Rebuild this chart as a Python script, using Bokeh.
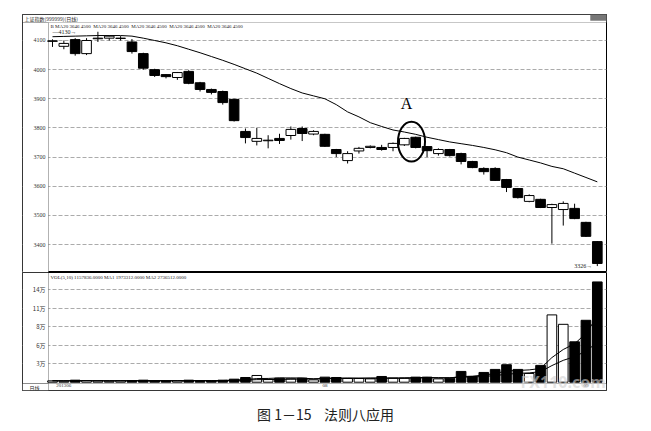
from bokeh.plotting import figure
from bokeh.layouts import column
from bokeh.models import ColumnDataSource, FixedTicker, Label, BoxAnnotation, Range1d
from bokeh.embed import file_html
from bokeh.resources import INLINE

# ---------------- data ----------------
idx = list(range(49))
opens = [4097, 4080, 4103, 4055, 4106, 4108, 4107, 4095, 4055, 4000,
         3983, 3973, 3994, 3955, 3932, 3925, 3898, 3788, 3754, 3756,
         3764, 3774, 3798, 3779, 3778, 3726, 3688, 3721, 3733, 3733,
         3733, 3742, 3768, 3736, 3712, 3726, 3712, 3685, 3661, 3661,
         3623, 3592, 3548, 3555, 3527, 3520, 3524, 3476, 3410]
closes = [4099, 4090, 4055, 4100, 4108, 4115, 4108, 4062, 4005, 3980,
          3976, 3990, 3953, 3932, 3922, 3887, 3825, 3767, 3764, 3758,
          3757, 3795, 3781, 3788, 3737, 3712, 3712, 3730, 3737, 3726,
          3747, 3764, 3733, 3722, 3726, 3705, 3685, 3664, 3650, 3620,
          3596, 3561, 3568, 3527, 3537, 3541, 3489, 3428, 3335]
highs = [4104, 4100, 4108, 4108, 4130, 4118, 4115, 4105, 4058, 4003,
         3985, 3992, 3998, 3958, 3935, 3928, 3900, 3798, 3800, 3775,
         3780, 3805, 3805, 3792, 3780, 3728, 3720, 3735, 3740, 3742,
         3750, 3766, 3770, 3738, 3730, 3728, 3715, 3687, 3665, 3665,
         3625, 3594, 3572, 3557, 3540, 3548, 3540, 3478, 3412]
lows = [4078, 4070, 4048, 4050, 4095, 4100, 4100, 4055, 4000, 3975,
        3970, 3965, 3950, 3925, 3915, 3880, 3822, 3747, 3740, 3730,
        3745, 3760, 3755, 3775, 3735, 3700, 3678, 3712, 3730, 3722,
        3720, 3738, 3730, 3700, 3705, 3702, 3675, 3662, 3640, 3618,
        3580, 3558, 3545, 3525, 3403, 3465, 3487, 3426, 3326]
ma_price = [4113, 4114, 4115, 4116, 4117, 4117, 4117, 4115, 4108, 4100,
            4092, 4082, 4070, 4058, 4045, 4032, 4018, 4003, 3988, 3970,
            3952, 3935, 3920, 3910, 3900, 3880, 3855, 3838, 3818, 3805,
            3793, 3786, 3778, 3768, 3760, 3752, 3746, 3740, 3733, 3725,
            3715, 3700, 3690, 3680, 3668, 3660, 3645, 3630, 3615]
# volume in 万
vol = [0.2, 0.15, 0.3, 0.25, 0.2, 0.15, 0.2, 0.25, 0.3, 0.25,
       0.2, 0.2, 0.3, 0.25, 0.2, 0.3, 0.45, 0.7, 1.0, 0.4,
       0.6, 0.5, 0.6, 0.35, 0.75, 0.7, 0.55, 0.55, 0.5, 0.85,
       0.6, 0.6, 0.75, 0.75, 0.5, 0.6, 1.6, 0.85, 1.45, 1.9,
       2.6, 1.9, 1.3, 2.5, 10.0, 8.6, 6.0, 9.2, 14.9]
vol_ma5 = [0.22, 0.21, 0.22, 0.23, 0.22, 0.22, 0.22, 0.23, 0.24, 0.23,
           0.22, 0.22, 0.23, 0.24, 0.23, 0.25, 0.3, 0.38, 0.54, 0.56,
           0.63, 0.64, 0.62, 0.49, 0.56, 0.59, 0.59, 0.58, 0.61, 0.63,
           0.61, 0.63, 0.67, 0.71, 0.64, 0.64, 0.84, 0.89, 1.07, 1.28,
           1.68, 1.74, 1.83, 2.04, 3.66, 4.86, 5.70, 7.26, 9.74]
vol_ma10 = [0.22, 0.22, 0.22, 0.22, 0.22, 0.22, 0.22, 0.22, 0.23, 0.23,
            0.23, 0.23, 0.23, 0.24, 0.24, 0.24, 0.26, 0.31, 0.38, 0.39,
            0.42, 0.45, 0.47, 0.49, 0.54, 0.58, 0.61, 0.6, 0.6, 0.59,
            0.6, 0.6, 0.62, 0.66, 0.67, 0.65, 0.75, 0.78, 0.85, 0.99,
            1.18, 1.31, 1.38, 1.57, 2.47, 3.25, 3.79, 4.63, 5.89]

price_ticks = [3400, 3500, 3600, 3700, 3800, 3900, 4000, 4100]
vol_ticks = [2.75, 5.5, 8.25, 11.0, 13.75]
vol_tick_labels = ["3万", "6万", "8万", "11万", "14万"]
date_ticks = [1, 24, 47]
date_labels = ["201306", "08", "09"]

NB = "\u00a0"
title_text = "上证指数(999999)(日线)"
price_header = NB.join(["B"] + ["MA20" + NB + "3646" + NB + "4500" + NB] * 5)
vol_header = "VOL(5,10) 1157836.0000  MA1 1973312.0000  MA2 2736512.0000"
caption = "图" + NB + "1－15" + NB * 4 + "法则八应用"
high_mark, low_mark = "4130", "3326"
mark_a_idx, mark_a_price = 31.63, 3753

# ---------------- sources ----------------
body_fill = ["white" if c > o else "black" for o, c in zip(opens, closes)]
src = ColumnDataSource(dict(
    x=idx, o=opens, c=closes, h=highs, l=lows,
    top=[max(o, c) for o, c in zip(opens, closes)],
    bot=[min(o, c) for o, c in zip(opens, closes)],
    fill=body_fill, vol=vol, ma=ma_price, m5=vol_ma5, m10=vol_ma10,
))

GRID = "#ababab"
TICKF = "Liberation Serif"
W = 640


def box(fig, l, r, t, b, fill="white", line="black", level="underlay", lw=1):
    fig.add_layout(BoxAnnotation(left=l, right=r, top=t, bottom=b,
                                 left_units="canvas", right_units="canvas",
                                 top_units="canvas", bottom_units="canvas",
                                 fill_color=fill, fill_alpha=1.0,
                                 line_color=line, line_width=lw, level=level))


def style_y(ax, ticks, font):
    ax.ticker = FixedTicker(ticks=ticks)
    ax.axis_line_color = None
    ax.major_tick_line_color = None
    ax.minor_tick_line_color = None
    ax.major_tick_out = 0
    ax.major_tick_in = 0
    ax.major_label_standoff = -23
    ax.major_label_text_font_size = "6px"
    ax.major_label_text_font = font
    ax.major_label_text_color = "#333333"


# ---------------- price panel (frame = page x 22..606, y 14..272) ----------------
P = figure(width=W, height=272, x_range=Range1d(-2.643, 48.81),
           y_range=Range1d(3304, 4189.2), output_backend="svg",
           toolbar_location=None, x_axis_type=None, title=None,
           min_border_left=22, min_border_right=W - 606, min_border_top=14,
           min_border_bottom=0)
P.outline_line_color = "black"
P.outline_line_width = 1
style_y(P.yaxis[0], price_ticks, TICKF)
P.ygrid.ticker = FixedTicker(ticks=price_ticks)
P.ygrid.grid_line_color = GRID
P.ygrid.grid_line_dash = "4 2"

# left axis column and title bar
box(P, 22, 48, 22, 272)
box(P, 22, 606, 14, 22, line="#444444")
box(P, 590, 606, 14, 20, fill="#777777", line="#555555", level="annotation")

P.segment(x0="x", y0="l", x1="x", y1="h", source=src, line_color="black", line_width=1)
P.vbar(x="x", top="top", bottom="bot", width=0.85, source=src,
       fill_color="fill", line_color="black", line_width=1)
P.line(x="x", y="ma", source=src, line_color="black", line_width=1)
P.ellipse(x=[mark_a_idx], y=[mark_a_price], width=2.38, height=137,
          fill_color=None, line_color="black", line_width=2)
P.add_layout(Label(x=31.2, y=3884, text="A", text_font="Liberation Serif",
                   text_font_size="16px", text_align="center",
                   text_baseline="middle", text_color="black"))
P.add_layout(Label(x=0.0, y=4129, text="—" + high_mark + "→", text_font=TICKF,
                   text_font_size="6px", text_baseline="middle", text_color="#222"))
P.add_layout(Label(x=47.55, y=3326, text=low_mark + "→", text_font=TICKF,
                   text_font_size="6px", text_align="right",
                   text_baseline="middle", text_color="#222"))
P.add_layout(Label(x=24, y=18, x_units="canvas", y_units="canvas", text=title_text,
                   text_font="Noto Sans CJK SC", text_font_size="5px",
                   text_baseline="middle", text_color="#222"))
P.add_layout(Label(x=50, y=25.5, x_units="canvas", y_units="canvas", text=price_header,
                   text_font=TICKF, text_font_size="5px",
                   text_baseline="middle", text_color="#222"))

# ---------------- volume panel (frame = page x 22..606, y 272..390) ----------------
V = figure(width=W, height=128, x_range=P.x_range,
           y_range=Range1d(-1.233, 16.3), output_backend="svg",
           toolbar_location=None, title=None,
           min_border_left=22, min_border_right=W - 606, min_border_top=0,
           min_border_bottom=10)
V.outline_line_color = "black"
V.outline_line_width = 1
style_y(V.yaxis[0], vol_ticks, "Noto Sans CJK SC")
V.yaxis.major_label_overrides = {t: s for t, s in zip(vol_ticks, vol_tick_labels)}
V.ygrid.ticker = FixedTicker(ticks=vol_ticks)
V.ygrid.grid_line_color = GRID
V.ygrid.grid_line_dash = "4 2"
V.xgrid.grid_line_color = None
V.xaxis.ticker = FixedTicker(ticks=date_ticks)
V.xaxis.major_label_overrides = {t: s for t, s in zip(date_ticks, date_labels)}
V.xaxis.axis_line_color = None
V.xaxis.major_tick_line_color = None
V.xaxis.minor_tick_line_color = None
V.xaxis.major_tick_out = 0
V.xaxis.major_tick_in = 0
V.xaxis.major_label_standoff = -7
V.xaxis.major_label_text_font_size = "5px"
V.xaxis.major_label_text_font = TICKF
V.xaxis.major_label_text_color = "#333"

box(V, 22, 48, 0, 111)
box(V, 22, 606, 111, 118)
box(V, 22, 48, 111, 118)

V.vbar(x="x", top="vol", bottom=0, width=0.85, source=src,
       fill_color="fill", line_color="black", line_width=1)
V.line(x="x", y="m5", source=src, line_color="black", line_width=1)
V.line(x="x", y="m10", source=src, line_color="black", line_width=1)

V.add_layout(Label(x=50, y=5, x_units="canvas", y_units="canvas", text=vol_header,
                   text_font=TICKF, text_font_size="5px",
                   text_baseline="middle", text_color="#222"))
V.add_layout(Label(x=34, y=114.5, x_units="canvas", y_units="canvas", text="日线",
                   text_font="Noto Sans CJK SC", text_font_size="5px",
                   text_baseline="middle", text_align="center", text_color="#222"))
V.add_layout(Label(x=520, y=109, x_units="canvas", y_units="canvas", text="FX110.com",
                   text_font="Noto Sans", text_font_size="16px", text_font_style="bold",
                   text_baseline="middle", text_color="#d0d0d0", text_alpha=0.6))

# ---------------- caption ----------------
C = figure(width=W, height=28, output_backend="svg", toolbar_location=None,
           title=None, x_axis_type=None, y_axis_type=None,
           min_border_left=0, min_border_right=0, min_border_top=0,
           min_border_bottom=0)
C.outline_line_color = None
C.grid.grid_line_color = None
C.add_layout(Label(x=325, y=13, x_units="canvas", y_units="canvas", text=caption,
                   text_font="Noto Sans CJK SC", text_font_size="14px",
                   text_baseline="middle", text_align="center", text_color="#222"))

layout = column(P, V, C, spacing=0)
open("out.html", "w").write(file_html(layout, INLINE))
